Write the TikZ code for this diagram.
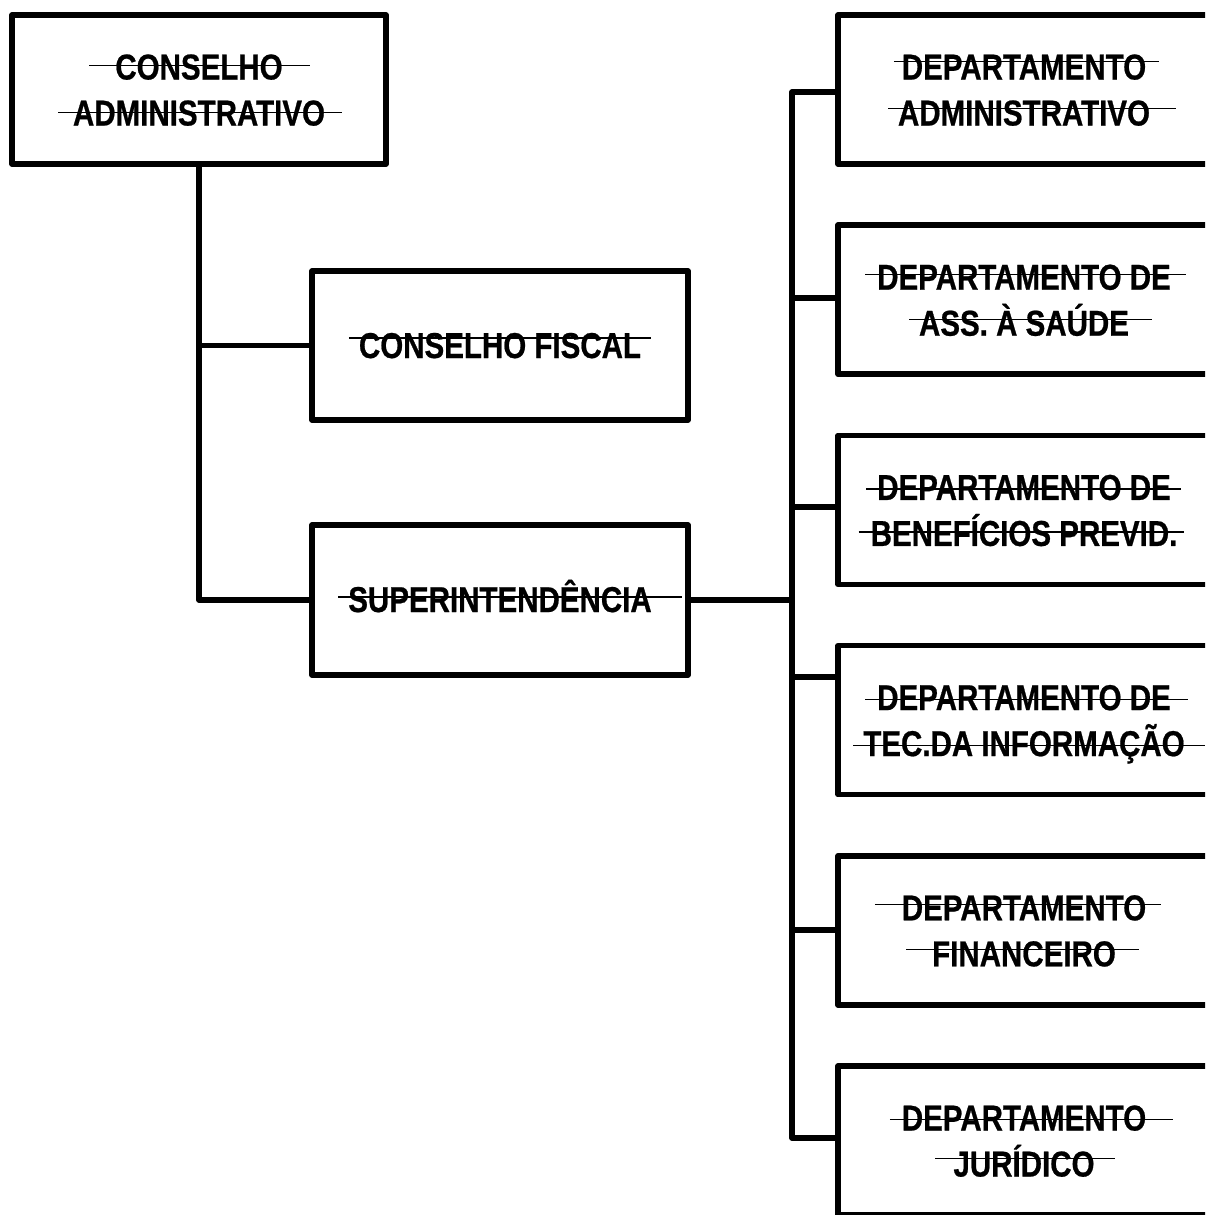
\documentclass[tikz,border=0pt]{standalone}
\usepackage{fontspec}
\setmainfont{Liberation Sans}[FakeStretch=0.82,BoldFeatures={FakeBold=0.6}]
\usetikzlibrary{calc}
\newsavebox\skbox
\newcommand\sk[4]{\sbox\skbox{#4}\rlap{\kern-#1pt\rule[\dimexpr#3pt-0.6pt\relax]{\dimexpr\wd\skbox+#1pt+#2pt\relax}{1.2pt}}\usebox\skbox}
\newcommand\twol[3]{\raisebox{-#1pt}[\height][\depth]{\begin{tabular}{@{}c@{}}#2\\#3\end{tabular}}}
\newcommand\onel[2]{\raisebox{-#1pt}[\height][\depth]{\begin{tabular}{@{}c@{}}#2\end{tabular}}}
\begin{document}
\begin{tikzpicture}[x=1pt,y=-1pt,line join=round]
\tikzset{
 box/.style={draw, line width=5.5pt, rectangle, inner sep=0pt, minimum height=149pt, font=\fontsize{36}{46}\selectfont\bfseries},
 dept/.style={box, minimum width=372pt},
 conn/.style={line width=5.5pt}
}
\useasboundingbox (0,0) rectangle (1205,1215);
\clip (0,0) rectangle (1205,1215);
\fill[white] (0,0) rectangle (1205,1215);
\node[box, minimum width=374pt] (ca) at (199,89.5) {\twol{3.8}{\sk{26}{27}{14}{CONSELHO}}{\sk{15}{17}{13}{ADMINISTRATIVO}}};
\node[box, minimum width=376pt] (cf) at (500,345.5) {\onel{3.3}{\sk{10}{10}{20}{CONSELHO FISCAL}}};
\node[box, minimum width=376pt, minimum height=150pt] (sup) at (500,600) {\onel{2.8}{\sk{10}{30}{15}{SUPERINTENDÊNCIA}}};
\node[dept] (d1) at (1024,89.5) {\twol{3.8}{\sk{8}{13}{18}{DEPARTAMENTO}}{\sk{10}{26}{17}{ADMINISTRATIVO}}};
\node[dept] (d2) at (1024,299.7) {\twol{3.8}{\sk{12}{15}{15}{DEPARTAMENTO DE}}{\sk{10}{23}{16}{ASS. À SAÚDE}}};
\node[dept] (d3) at (1024,509.9) {\twol{3.8}{\sk{11}{10}{11}{DEPARTAMENTO DE}}{\sk{12}{7}{14}{BENEFÍCIOS PREVID.}}};
\node[dept] (d4) at (1024,720.1) {\twol{3.8}{\sk{12}{17}{11}{DEPARTAMENTO DE}}{\sk{10}{20}{11}{TEC.DA INFORMAÇÃO}}};
\node[dept] (d5) at (1024,930.3) {\twol{3.8}{\sk{27}{15}{16}{DEPARTAMENTO}}{\sk{26}{23}{17}{FINANCEIRO}}};
\node[dept] (d6) at (1024,1140.5) {\twol{3.8}{\sk{12}{27}{11}{DEPARTAMENTO}}{\sk{18}{20}{18}{JURÍDICO}}};
\coordinate (b0) at (792,600);
\coordinate (b1) at (792,92);
\coordinate (b2) at (792,298);
\coordinate (b3) at (792,507);
\coordinate (b4) at (792,677);
\coordinate (b5) at (792,930);
\coordinate (b6) at (792,1138);
\draw[conn] (ca.south) |- (sup.west);
\draw[conn] (ca.south |- cf.west) -- (cf.west);
\draw[conn] (sup.east) -- (b0);
\draw[conn] (d1.west |- b1) -- (b1) -- (b6) -- (d6.west |- b6);
\draw[conn] (b2) -- (d2.west |- b2);
\draw[conn] (b3) -- (d3.west |- b3);
\draw[conn] (b4) -- (d4.west |- b4);
\draw[conn] (b5) -- (d5.west |- b5);
\end{tikzpicture}
\end{document}
